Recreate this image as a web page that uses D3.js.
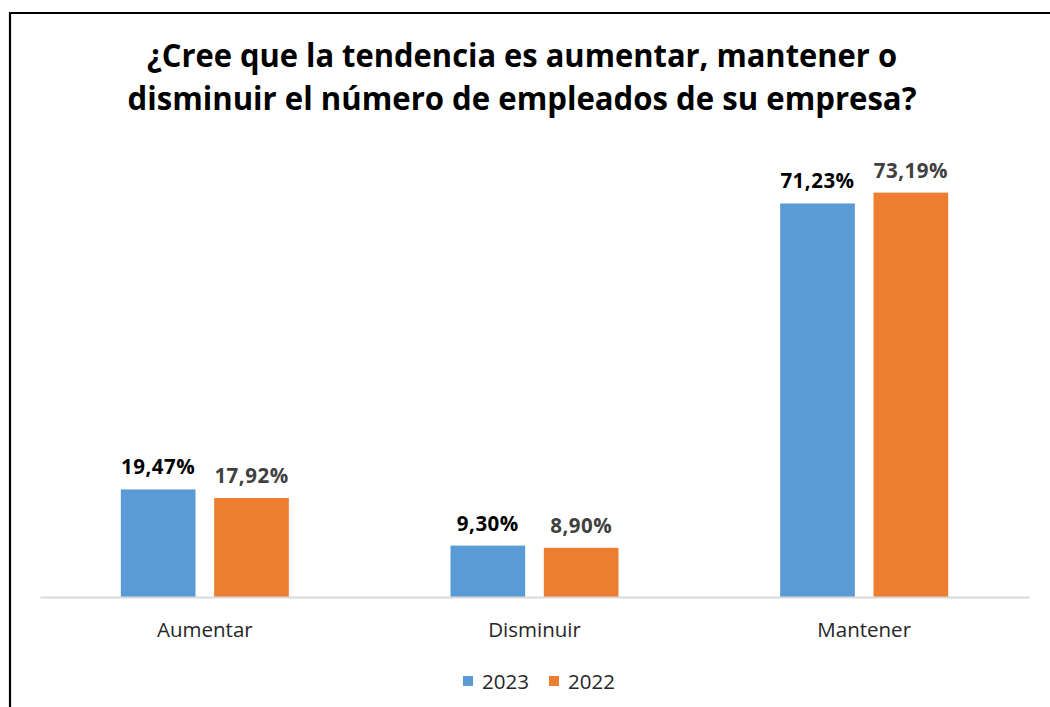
<!DOCTYPE html>
<html>
<head>
<meta charset="utf-8">
<script src="https://cdn.jsdelivr.net/npm/d3@7"></script>
<style>
  html, body { margin: 0; padding: 0; background: #ffffff; }
  svg { display: block; }
</style>
</head>
<body>
<svg id="chart" width="1050" height="707"></svg>
<script>
const categories = ["Aumentar", "Disminuir", "Mantener"];
const seriesNames = ["2023", "2022"];
const values2023 = [19.47, 9.30, 71.23];
const values2022 = [17.92, 8.90, 73.19];
const valueLabels2023 = ["19,47%", "9,30%", "71,23%"];
const valueLabels2022 = ["17,92%", "8,90%", "73,19%"];
const titleLines = ["¿Cree que la tendencia es aumentar, mantener o", "disminuir el número de empleados de su empresa?"];
const colors = ["#5b9bd5", "#ed7d31"];

const svg = d3.select("#chart");
const W = 1050, H = 707;
svg.append("rect").attr("width", W).attr("height", H).attr("fill", "#fff");

// frame
svg.append("path").attr("d", "M10,707 L10,13 L1050,13").attr("fill", "none").attr("stroke", "#000").attr("stroke-width", 2.2);

// title
const titleText = svg.append("g");
const titleBase = [67, 110];
const titleWidths = [750, 789];
titleLines.forEach((t, i) => {
  titleText.append("text")
    .attr("x", 522).attr("y", titleBase[i])
    .attr("text-anchor", "middle")
    .attr("font-family", "'Open Sans', sans-serif")
    .attr("font-weight", "bold")
    .attr("font-size", 32)
    .attr("textLength", titleWidths[i])
    .attr("lengthAdjust", "spacingAndGlyphs")
    .attr("fill", "#000")
    .text(t);
});

const plot = { left: 40, right: 1029, top: 155, bottom: 597 };
const x0 = d3.scaleBand().domain(categories).range([plot.left, plot.right]).paddingInner(0).paddingOuter(0);
const groupW = 168;
const x1 = d3.scaleBand().domain(seriesNames).range([0, groupW]).paddingInner(0.2).paddingOuter(0);
const y = d3.scaleLinear().domain([0, 80]).range([plot.bottom, plot.top]);

const data = categories.map((c, i) => ({ cat: c, vals: [
  { s: "2023", v: values2023[i], label: valueLabels2023[i], color: colors[0], lc: "#000" },
  { s: "2022", v: values2022[i], label: valueLabels2022[i], color: colors[1], lc: "#404040" }
]}));

const groups = svg.append("g").selectAll("g").data(data).join("g")
  .attr("transform", d => `translate(${x0(d.cat) + (x0.bandwidth() - groupW) / 2},0)`);

groups.selectAll("rect").data(d => d.vals).join("rect")
  .attr("x", d => x1(d.s))
  .attr("y", d => y(d.v))
  .attr("width", x1.bandwidth())
  .attr("height", d => y(0) - y(d.v))
  .attr("fill", d => d.color);

groups.selectAll("text").data(d => d.vals).join("text")
  .attr("x", d => x1(d.s) + x1.bandwidth() / 2)
  .attr("y", d => y(d.v) - 15)
  .attr("text-anchor", "middle")
  .attr("font-family", "'Open Sans', sans-serif")
  .attr("font-weight", "bold")
  .attr("font-size", 20.5)
  .attr("letter-spacing", 0.5)
  .attr("fill", d => d.lc)
  .text(d => d.label);

// x axis
const xAxis = svg.append("g").attr("transform", `translate(0,${plot.bottom})`)
  .call(d3.axisBottom(x0).tickSize(0).tickPadding(0));
xAxis.select(".domain").attr("stroke", "#d9d9d9").attr("stroke-width", 2);
xAxis.selectAll(".tick text")
  .attr("dy", 0).attr("y", 40)
  .attr("font-family", "'Open Sans', sans-serif")
  .attr("font-size", 20.5)
  .attr("fill", "#262626");

// legend
const legend = svg.append("g");
const legendItems = [{ s: seriesNames[0], c: colors[0], x: 463 }, { s: seriesNames[1], c: colors[1], x: 549 }];
legendItems.forEach(it => {
  legend.append("rect").attr("x", it.x).attr("y", 676).attr("width", 10).attr("height", 10).attr("fill", it.c);
  legend.append("text").attr("x", it.x + 19).attr("y", 689)
    .attr("font-family", "'Open Sans', sans-serif").attr("font-size", 20.5).attr("fill", "#262626")
    .text(it.s);
});
</script>
</body>
</html>
